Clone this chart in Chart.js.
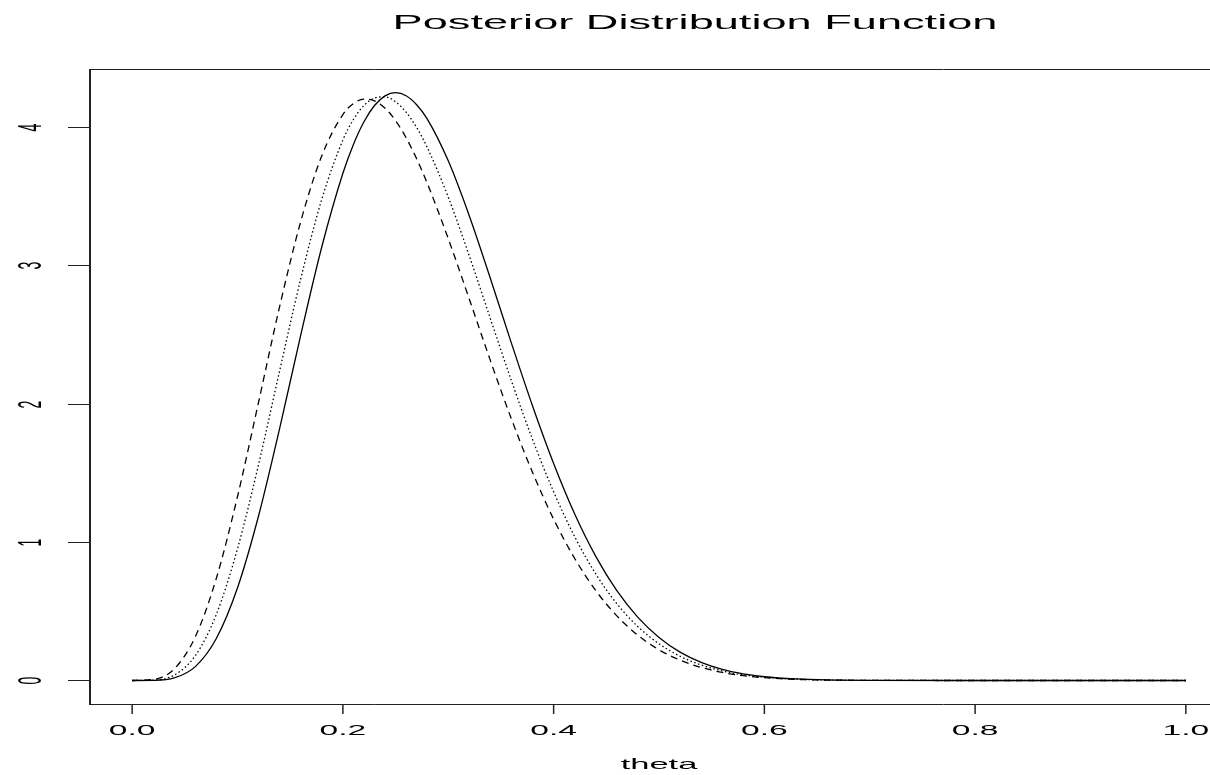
<!DOCTYPE html>
<html>
<head>
<meta charset="utf-8">
<script src="https://cdn.jsdelivr.net/npm/chart.js@4"></script>
<style>
  html, body { margin: 0; padding: 0; background: #fff; overflow: hidden; }
</style>
</head>
<body>
<canvas id="chart" width="1250" height="775"></canvas>
<script>
// values
var theta = [0, 0.02, 0.04, 0.06, 0.08, 0.10, 0.12, 0.14, 0.16, 0.18, 0.20, 0.21, 0.22, 0.23, 0.24, 0.25,
  0.26, 0.27, 0.28, 0.30, 0.32, 0.34, 0.36, 0.38, 0.40, 0.42, 0.44, 0.46, 0.48, 0.50, 0.52, 0.54,
  0.56, 0.58, 0.60, 0.63, 0.66, 0.70, 0.80, 0.90, 1.00];
var solidCurve = [0, 0.0008, 0.018, 0.100, 0.305, 0.670, 1.191, 1.823, 2.497, 3.135, 3.666, 3.875, 4.039, 4.156, 4.226, 4.249,
  4.227, 4.162, 4.060, 3.756, 3.358, 2.906, 2.437, 1.984, 1.568, 1.203, 0.897, 0.649, 0.456, 0.311, 0.205, 0.131,
  0.080, 0.048, 0.027, 0.011, 0.004, 0.001, 0, 0, 0];
var dottedCurve = [0, 0.002, 0.039, 0.180, 0.480, 0.953, 1.562, 2.240, 2.904, 3.479, 3.907, 4.055, 4.156, 4.210, 4.219, 4.183,
  4.108, 3.997, 3.854, 3.494, 3.068, 2.615, 2.165, 1.742, 1.364, 1.039, 0.770, 0.555, 0.389, 0.265, 0.175, 0.112,
  0.069, 0.041, 0.024, 0.010, 0.003, 0.001, 0, 0, 0];
var dashedCurve = [0, 0.007, 0.084, 0.317, 0.741, 1.330, 2.013, 2.704, 3.318, 3.793, 4.091, 4.170, 4.202, 4.190, 4.137, 4.047,
  3.923, 3.771, 3.595, 3.194, 2.756, 2.312, 1.889, 1.504, 1.166, 0.882, 0.650, 0.467, 0.326, 0.222, 0.147, 0.094,
  0.058, 0.035, 0.020, 0.008, 0.003, 0.001, 0, 0, 0];

var xTicks = [0, 0.2, 0.4, 0.6, 0.8, 1.0];
var xTickLabels = ['0.0', '0.2', '0.4', '0.6', '0.8', '1.0'];
var yTicks = [0, 1, 2, 3, 4];
var yTickLabels = ['0', '1', '2', '3', '4'];
var titleText = 'Posterior Distribution Function';
var xLabel = 'theta';

function points(ys) {
  var out = [];
  for (var i = 0; i < theta.length; i++) {
    out.push({ x: theta[i], y: ys[i] });
  }
  return out;
}

// horizontally stretched text, like the reference
function stretchText(ctx, text, x, y, sx, rotate) {
  ctx.save();
  ctx.translate(x, y);
  ctx.scale(sx, 1);
  if (rotate) ctx.rotate(-Math.PI / 2);
  ctx.fillText(text, 0, 0);
  ctx.restore();
}

var rAxes = {
  id: 'rAxes',
  afterDraw: function (chart) {
    var ctx = chart.ctx;
    var xs = chart.scales.x, ys = chart.scales.y;
    var a = chart.chartArea;
    ctx.save();
    ctx.strokeStyle = '#222';
    ctx.fillStyle = '#000';

    // box
    ctx.lineWidth = 1;
    ctx.beginPath();
    ctx.moveTo(a.left, a.top + 0.5);
    ctx.lineTo(a.right, a.top + 0.5);
    ctx.moveTo(a.left, a.bottom + 0.5);
    ctx.lineTo(a.right, a.bottom + 0.5);
    ctx.stroke();
    ctx.lineWidth = 2;
    ctx.beginPath();
    ctx.moveTo(a.left, a.top);
    ctx.lineTo(a.left, a.bottom + 1);
    ctx.stroke();

    // x ticks
    ctx.lineWidth = 1.5;
    ctx.font = '14px "Liberation Sans", Arial, sans-serif';
    ctx.textAlign = 'center';
    ctx.textBaseline = 'alphabetic';
    for (var i = 0; i < xTicks.length; i++) {
      var px = xs.getPixelForValue(xTicks[i]);
      ctx.beginPath();
      ctx.moveTo(px, a.bottom);
      ctx.lineTo(px, a.bottom + 10);
      ctx.stroke();
      stretchText(ctx, xTickLabels[i], px, 735, 2.4, false);
    }

    // y ticks
    ctx.lineWidth = 1;
    for (var j = 0; j < yTicks.length; j++) {
      var py = Math.round(ys.getPixelForValue(yTicks[j])) + 0.5;
      ctx.beginPath();
      ctx.moveTo(a.left - 22, py);
      ctx.lineTo(a.left, py);
      ctx.stroke();
      stretchText(ctx, yTickLabels[j], 41, py, 2.4, true);
    }

    // axis label and title
    ctx.font = '15px "Liberation Sans", Arial, sans-serif';
    stretchText(ctx, xLabel, (xs.getPixelForValue(-0.04) + xs.getPixelForValue(1.04)) / 2, 769, 2.3, false);
    ctx.font = '21px "Liberation Sans", Arial, sans-serif';
    stretchText(ctx, titleText, 695, 29, 2.15, false);
    ctx.restore();
  }
};

var config = {
  type: 'line',
  data: {
    datasets: [{
      data: points(solidCurve),
      borderColor: '#000',
      borderWidth: 1.3
    }, {
      data: points(dottedCurve),
      borderColor: '#000',
      borderWidth: 1.3,
      borderDash: [1.5, 2.5]
    }, {
      data: points(dashedCurve),
      borderColor: '#000',
      borderWidth: 1.3,
      borderDash: [7, 5]
    }]
  },
  options: {
    responsive: false,
    animation: false,
    events: [],
    layout: { padding: { left: 90, top: 69, right: 22, bottom: 71 } },
    elements: {
      point: { radius: 0 },
      line: { cubicInterpolationMode: 'monotone', fill: false }
    },
    plugins: {
      legend: { display: false },
      title: { display: false },
      tooltip: { enabled: false }
    },
    scales: {
      x: { type: 'linear', min: -0.04, max: 1.04, display: false },
      y: { type: 'linear', min: -0.17, max: 4.42, display: false }
    }
  },
  plugins: [rAxes]
};

new Chart(document.getElementById('chart').getContext('2d'), config);
</script>
</body>
</html>
